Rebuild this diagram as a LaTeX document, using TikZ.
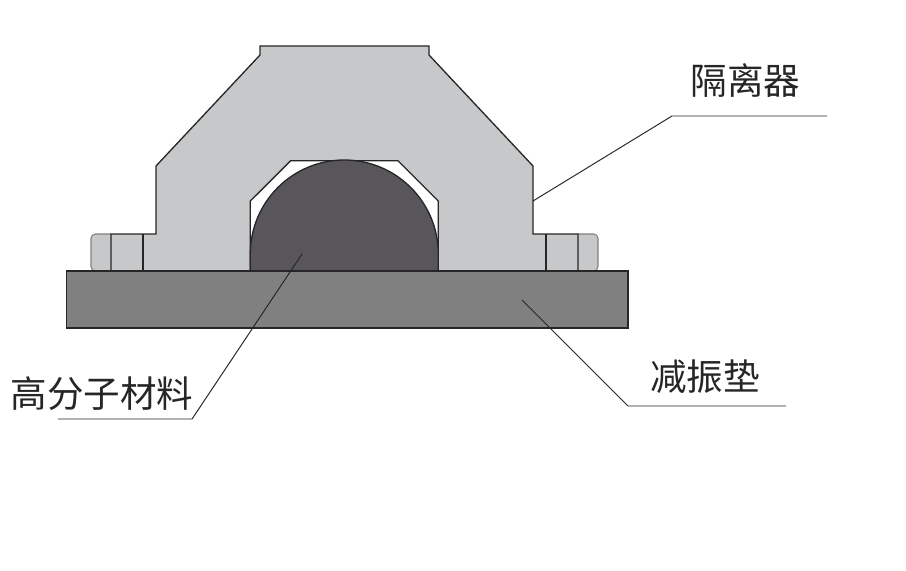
\documentclass[tikz,border=0pt]{standalone}
\usepackage{fontspec}
\usepackage{xcolor}
\newfontfamily\cjk{Noto Sans CJK SC}
\definecolor{housinggray}{RGB}{199, 200, 202}
\definecolor{padgray}{RGB}{128, 128, 128}
\definecolor{coregray}{RGB}{88, 86, 90}
\usetikzlibrary{
    positioning
}
\tikzstyle{outline} = [
    draw=black!85,
    line width=0.75pt,
    line join=miter
]
\tikzstyle{leader} = [
    black!85,
    line width=0.55pt
]
\tikzstyle{label} = [
    font=\cjk\fontsize{20.8pt}{24pt}\selectfont,
    inner sep=0pt,
    text=black!85
]

\begin{document}
\begin{tikzpicture}[x=0.02cm, y=-0.02cm]

\useasboundingbox (0,0) rectangle (906,571);

% Mutter links und rechts
\draw[gray, line width=0.6pt, fill=housinggray, rounded corners=2.5pt]
    (111,234) -- (91,234) -- (91,271) -- (111,271);
\draw[gray, line width=0.6pt, fill=housinggray, rounded corners=2.5pt]
    (578,234) -- (598,234) -- (598,271) -- (578,271);

% Gehaeuse
\path[fill=housinggray]
    (111,271) -- (111,234) -- (156,234) -- (156,166) -- (260,55) -- (260,46)
    -- (429,46) -- (429,55) -- (533,166) -- (533,234) -- (578,234) -- (578,271) -- cycle;
\draw[outline]
    (111,271) -- (111,234) -- (156,234) -- (156,166) -- (260,55) -- (260,46)
    -- (429,46) -- (429,55) -- (533,166) -- (533,234) -- (578,234) -- (578,271);

% Senkrechte Striche
\foreach \x in {143,546} {
    \draw[outline] (\x,234) -- (\x,271);
}

% Hohlraum
\draw[outline, fill=white]
    (250.3,271) -- (250.3,201) -- (290.7,160.7) -- (398,160.7)
    -- (438.3,201) -- (438.3,271) -- cycle;

% Polymerkern
\draw[outline, fill=coregray]
    (250.3,271) -- (250.3,254) arc[start angle=180, end angle=360, radius=94]
    -- (438.3,271) -- cycle;

% Daempfungsplatte
\draw[outline, fill=padgray] (66.5,271) rectangle (628,328);

% Beschriftung
\node[label] (isolator) at (745.5,80) {隔离器};
\node[label] (polymer) at (102,394) {高分子材料};
\node[label] (pad) at (705,377) {减振垫};

% Hinweislinien
\coordinate (isolatorA) at (533,201);
\coordinate (isolatorB) at (672,116);
\coordinate (isolatorC) at (827,116);
\coordinate (polymerA) at (302,254);
\coordinate (polymerB) at (192,419);
\coordinate (polymerC) at (58,419);
\coordinate (padA) at (522,300);
\coordinate (padB) at (628,406);
\coordinate (padC) at (786,406);

\draw[leader] (isolatorA) -- (isolatorB) -- (isolatorC);
\draw[leader] (polymerA) -- (polymerB) -- (polymerC);
\draw[leader] (padA) -- (padB) -- (padC);

\end{tikzpicture}
\end{document}
